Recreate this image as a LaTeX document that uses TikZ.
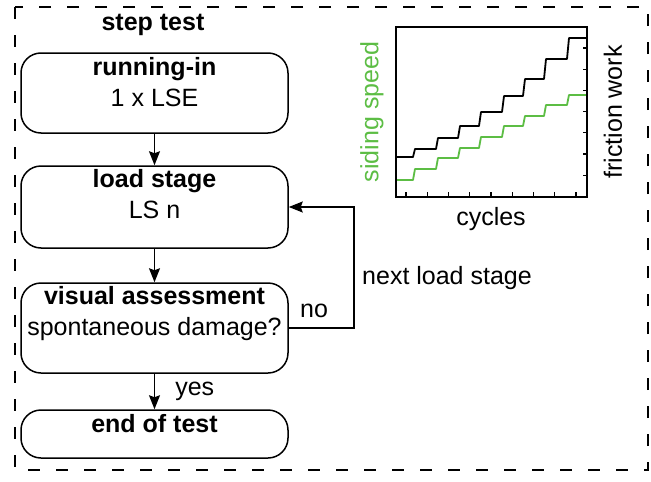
\documentclass[tikz,border=0pt]{standalone}
\usepackage{fontspec}
\setmainfont{Liberation Sans}
\usepackage{tikz}
\usetikzlibrary{
	positioning, arrows.meta,
	math
}
\definecolor{verde}{RGB}{92,189,68}
\def\W{651}
\def\H{482}

\begin{document}
\begin{tikzpicture}[
	x = 1pt, y = -1pt,
	every node/.style = {font = \fontsize{25}{31}\selectfont},
	caja/.style = {draw, line width = 1.5pt, rounded corners = 20pt,
		minimum width = 267pt, inner sep = 0pt},
	texto/.style = {align = center, inner sep = 0pt},
	flecha/.style = {line width = 1.5pt,
		-{Stealth[length = 14pt, width = 11pt, inset = 2pt]}},
]

	% márgenes del dibujo
	\useasboundingbox (0,0) rectangle (\W,\H);

	% marco discontinuo
	\draw[line width = 2.2pt, dash pattern = on 12pt off 16pt]
		(15,7) rectangle (648,470);

	% título
	\node[anchor = base] (titulo) at (153,30) {\textbf{step test}};

	% cajas del diagrama
	\node[caja, minimum height = 80pt] (run) at (154.5,93) {};
	\node[caja, minimum height = 82pt] (load) at (154.5,207) {};
	\node[caja, minimum height = 90pt] (vis) at (154.5,328) {};
	\node[caja, minimum height = 48pt] (end) at (154.5,434) {};

	% textos de las cajas
	\node[texto, below = 5pt of run.north] (runtxt)
		{\textbf{running-in}\\1 x LSE};
	\node[texto, below = 4pt of load.north] (loadtxt)
		{\textbf{load stage}\\LS n};
	\node[texto, below = 4pt of vis.north] (vistxt)
		{\textbf{visual assessment}\\spontaneous damage?};
	\node[texto, below = 5pt of end.north] (endtxt)
		{\textbf{end of test}};

	% flechas
	\draw[flecha] (run) -- (load);
	\draw[flecha] (load) -- (vis);
	\draw[flecha] (vis) --node[anchor = west, inner sep = 0pt, xshift = 20pt] (si) {yes} (end);

	% retorno a la siguiente etapa
	\draw[flecha] (vis.east) -- ++(65,0) |- (load.east);
	\node[anchor = base west, inner sep = 0pt] (no) at (300,317) {no};
	\node[anchor = base west, inner sep = 0pt] (sig) at (362,284) {next load stage};

	% gráfica
	\tikzmath{
		% límites de los ejes
		\xa = 396; \xb = 587;
		\ya = 27; \yb = 197;
	};

	% curvas escalonadas
	\draw[line width = 1.8pt, line join = round]
		(\xa,157)
		\foreach \x/\y/\z in {413/157/149, 436/149/138, 458/138/126, 479/126/112,
			502/112/96, 523/96/79, 544/79/59, 567/59/38}
			{ -- (\x,\y) -- (\x+2,\z) }
		-- (\xb,38);
	\draw[verde, line width = 1.8pt, line join = round]
		(\xa,180)
		\foreach \x/\y/\z in {413/180/169, 436/169/158, 458/158/148, 479/148/137,
			502/137/126, 523/126/116, 544/116/105, 567/105/95}
			{ -- (\x,\y) -- (\x+2,\z) }
		-- (\xb,95);

	% ejes y marcas
	\draw[line width = 2.2pt] (\xa,\ya) rectangle (\xb,\yb);
	\foreach \k in {0,...,6}
		\draw[line width = 1.3pt] (\xb,48+21.2*\k) -- ++(-4,0);
	\foreach \k in {0,...,8}
		\draw[line width = 1.3pt] (406+21.25*\k,\yb) -- ++(0,-5);

	% etiquetas de los ejes
	\node[verde, rotate = 90] (vel) at (372,112) {siding speed};
	\node[rotate = 90] (trab) at (613,112) {friction work};
	\node (ciclos) at (491,219) {cycles};

\end{tikzpicture}
\end{document}
